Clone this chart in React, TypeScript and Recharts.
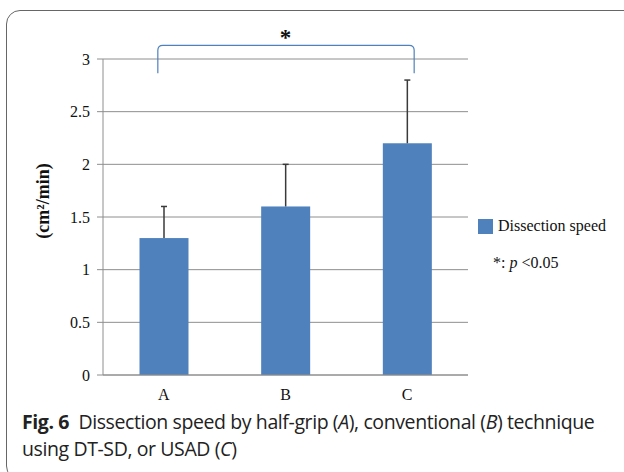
import React from "react";
import { BarChart, Bar, XAxis, YAxis, CartesianGrid, ReferenceLine } from "recharts";

const categories = ["A", "B", "C"];
const speed = [1.3, 1.6, 2.2];
const speedSD = [0.3, 0.4, 0.6];
const yTicks = [0, 0.5, 1, 1.5, 2, 2.5, 3];
const bracketLevel = 3.13;

const data = categories.map((name, i) => ({ name, speed: speed[i], sd: speedSD[i] }));

const BLUE = "#4f81bd";
const GRID = "#8e8e8e";
const SERIF = "'Liberation Serif', 'Times New Roman', serif";

function BarWithError(props: any) {
  const { x, y, width, height, payload } = props;
  const perUnit = height / payload.speed;
  const top = y - payload.sd * perUnit;
  const cx = x + width / 2;
  return (
    <g>
      <rect x={x} y={y} width={width} height={height} fill={BLUE} />
      <line x1={cx} y1={y} x2={cx} y2={top} stroke="#3a3a3a" strokeWidth={1.5} />
      <line x1={cx - 3} y1={top} x2={cx + 3} y2={top} stroke="#3a3a3a" strokeWidth={1.5} />
    </g>
  );
}

// bracket drawn around the reference segment, with rounded shoulders
function Bracket(props: any) {
  const { x1, y1, x2 } = props;
  const l = x1 - 6;
  const r = x2 + 7;
  const y = y1;
  const d = `M${l},${y + 28} L${l},${y + 5} Q${l},${y} ${l + 5},${y} L${r - 5},${y} Q${r},${y} ${r},${y + 5} L${r},${y + 28}`;
  return <path d={d} fill="none" stroke={BLUE} strokeWidth={1.2} />;
}

export default function App() {
  return (
    <div style={{ position: "fixed", left: 0, top: 0, width: 624, height: 472, overflow: "hidden", background: "#fff" }}>
      <div
        style={{
          position: "absolute",
          left: 6,
          top: 10,
          width: 700,
          height: 470,
          border: "1.5px solid #666",
          borderRadius: 14,
          boxSizing: "border-box",
        }}
      />
      <div style={{ position: "absolute", left: 0, top: 0 }}>
        <BarChart
          width={624}
          height={410}
          data={data}
          margin={{ top: 59, right: 156, left: 43, bottom: 5 }}
          barCategoryGap="30%"
        >
          <CartesianGrid vertical={false} stroke={GRID} strokeWidth={1} />
          <XAxis
            dataKey="name"
            tickLine={false}
            axisLine={{ stroke: GRID }}
            height={30}
            tick={{ fontFamily: SERIF, fontSize: 16, fill: "#111" }}
            tickMargin={8}
          />
          <YAxis
            domain={[0, 3]}
            ticks={yTicks}
            width={60}
            axisLine={{ stroke: GRID }}
            tickLine={{ stroke: GRID }}
            tickSize={6}
            tick={{ fontFamily: SERIF, fontSize: 16, fill: "#111" }}
            tickMargin={7}
          />
          <Bar dataKey="speed" shape={<BarWithError />} isAnimationActive={false} />
          <ReferenceLine
            segment={[{ x: "A", y: bracketLevel }, { x: "C", y: bracketLevel }]}
            ifOverflow="visible"
            shape={<Bracket />}
            label={{ value: "*", position: "top", offset: 0, style: { fontFamily: SERIF, fontSize: 23, fontWeight: "bold", fill: "#111" } }}
          />
        </BarChart>
      </div>
      <div
        style={{
          position: "absolute",
          left: 43,
          top: 201,
          transform: "translate(-50%, -50%) rotate(-90deg)",
          fontFamily: SERIF,
          fontSize: 18,
          fontWeight: "bold",
          color: "#111",
          whiteSpace: "nowrap",
        }}
      >
        (cm²/min)
      </div>
      <div style={{ position: "absolute", left: 478, top: 217, fontFamily: SERIF, fontSize: 16, color: "#111" }}>
        <div style={{ display: "flex", alignItems: "center" }}>
          <span style={{ width: 15, height: 15, background: BLUE, display: "inline-block", marginRight: 5 }} />
          Dissection speed
        </div>
        <div style={{ marginTop: 19, marginLeft: 15 }}>
          *: <i>p</i> &lt;0.05
        </div>
      </div>
      <div
        style={{
          position: "absolute",
          left: 22,
          top: 408,
          fontFamily: "'Open Sans', sans-serif",
          fontSize: 19.5,
          lineHeight: "27px",
          color: "#222",
          letterSpacing: -0.4,
          whiteSpace: "nowrap",
        }}
      >
        <b>Fig. 6</b>&nbsp; Dissection speed by half-grip (<i>A</i>), conventional (<i>B</i>) technique
        <br />
        using DT-SD, or USAD (<i>C</i>)
      </div>
    </div>
  );
}
